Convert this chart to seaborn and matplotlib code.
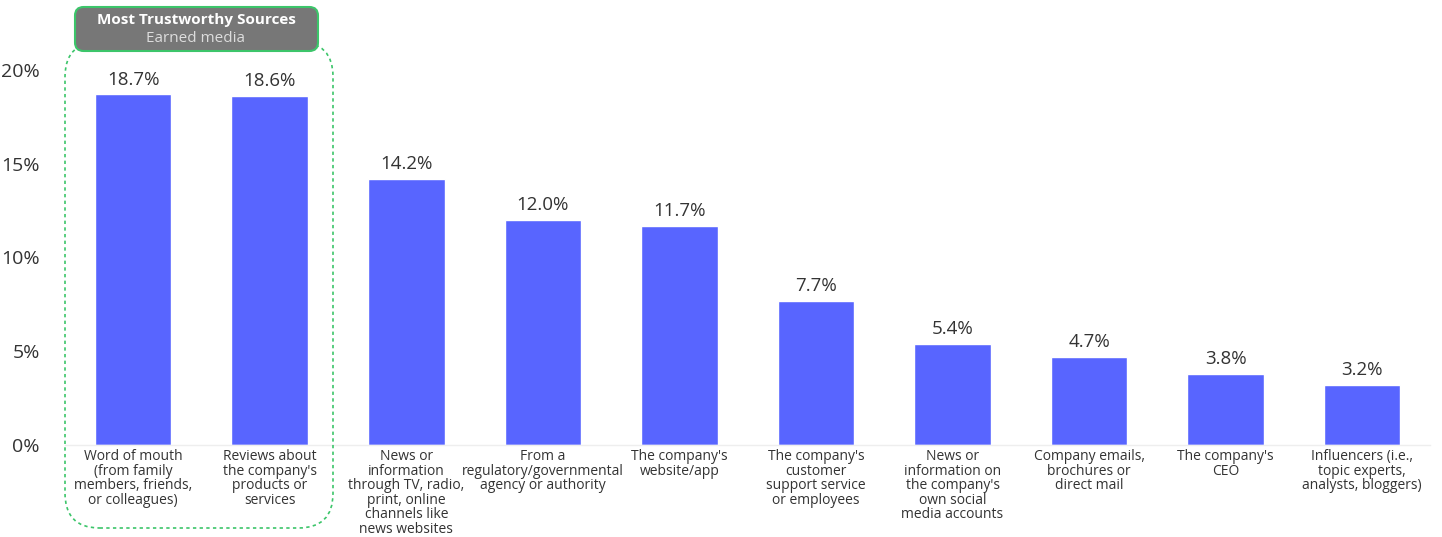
import seaborn as sns
import matplotlib.pyplot as plt
import pandas as pd
from matplotlib.patches import FancyBboxPatch

sns.set_style("white")
plt.rcParams["font.family"] = ["Open Sans", "DejaVu Sans"]

# data
sources = [
    "Word of mouth\n(from family\nmembers, friends,\nor colleagues)",
    "Reviews about\nthe company's\nproducts or\nservices",
    "News or\ninformation\nthrough TV, radio,\nprint, online\nchannels like\nnews websites",
    "From a\nregulatory/governmental\nagency or authority",
    "The company's\nwebsite/app",
    "The company's\ncustomer\nsupport service\nor employees",
    "News or\ninformation on\nthe company's\nown social\nmedia accounts",
    "Company emails,\nbrochures or\ndirect mail",
    "The company's\nCEO",
    "Influencers (i.e.,\ntopic experts,\nanalysts, bloggers)",
]
shares = [18.7, 18.6, 14.2, 12.0, 11.7, 7.7, 5.4, 4.7, 3.8, 3.2]
yticks = [0, 5, 10, 15, 20]

df = pd.DataFrame({"source": sources, "share": shares})

fig = plt.figure(figsize=(14.42, 5.37), dpi=100)
ax = fig.add_axes([0.045, 0.171, 0.947, 0.699])

bar_color = "#5865FF"
sns.barplot(data=df, x="source", y="share", color=bar_color, width=0.56,
            saturation=1, ax=ax)

for p, v in zip(ax.patches, shares):
    ax.text(p.get_x() + p.get_width() / 2, v + 0.3, f"{v:.1f}%",
            ha="center", va="bottom", fontsize=13.5, color="#333333")

ax.set_ylim(0, 20)
ax.set_xlim(-0.5, len(sources) - 0.5)
ax.set_yticks(yticks)
ax.set_yticklabels([f"{t}%" for t in yticks], fontsize=14, color="#333333")
ax.tick_params(axis="y", length=0, pad=18)
ax.tick_params(axis="x", length=0, pad=3)
ax.set_xticklabels(sources, fontsize=10, color="#333333", linespacing=0.95)
ax.set_xlabel("")
ax.set_ylabel("")
for s in ["top", "right", "left"]:
    ax.spines[s].set_visible(False)
ax.spines["bottom"].set_color("#eeeeee")
ax.spines["bottom"].set_linewidth(1)

# dashed highlight around the earned media bars (figure pixel fractions)
W, H = 1442, 537
asp = W / H
outer = FancyBboxPatch((65 / W, 1 - 528 / H), (333 - 65) / W, (528 - 42) / H,
                       boxstyle="round,pad=0,rounding_size=0.024",
                       mutation_aspect=asp, transform=fig.transFigure,
                       fill=False, edgecolor="#3cc56a", linestyle=(0, (2, 2)),
                       linewidth=1.2)
fig.patches.append(outer)

header = FancyBboxPatch((75 / W, 1 - 51 / H), (318 - 75) / W, (51 - 7) / H,
                        boxstyle="round,pad=0,rounding_size=0.006",
                        mutation_aspect=asp, transform=fig.transFigure,
                        facecolor="#777777", edgecolor="#3cc56a",
                        linewidth=1.5)
fig.patches.append(header)
fig.text(196 / W, 1 - 20 / H, "Most Trustworthy Sources", ha="center",
         va="center", fontsize=11, fontweight="bold", color="white")
fig.text(196 / W, 1 - 39 / H, "Earned media", ha="center", va="center",
         fontsize=11, color="#dddddd")

plt.savefig("out.png", dpi=100)
plt.close()
